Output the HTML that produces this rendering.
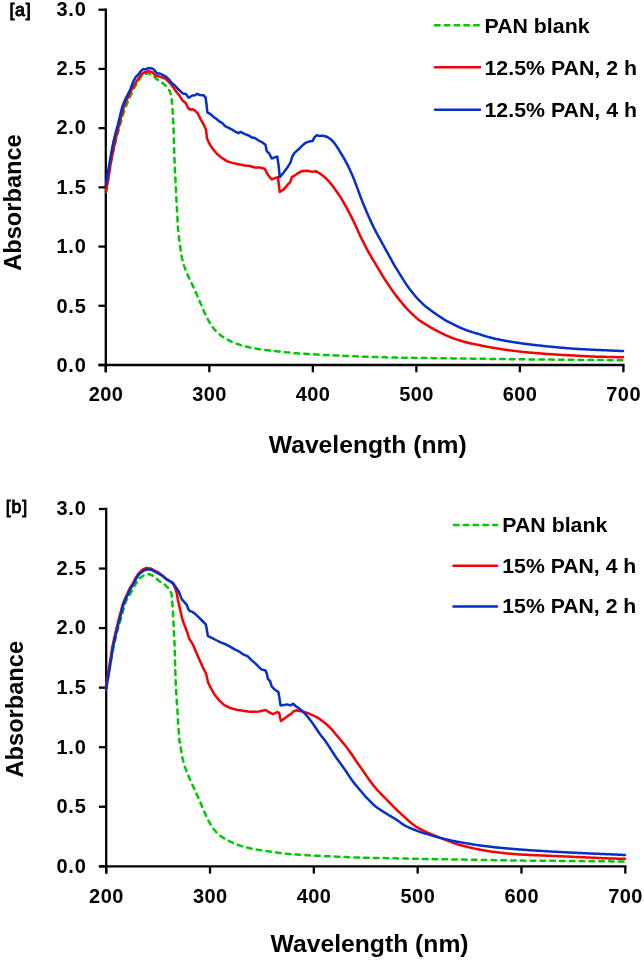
<!DOCTYPE html>
<html><head><meta charset="utf-8"><style>
html,body{margin:0;padding:0;background:#fff;}
body{width:644px;height:960px;overflow:hidden;}
svg{display:block;will-change:transform;}
text{font-family:"Liberation Sans",sans-serif;font-weight:bold;fill:#000;}
.tk{font-size:20px;}
.tky{font-size:20px;}
.tt{font-size:23.5px;}
.lg{font-size:20.5px;}
.pl{font-size:17.8px;font-weight:normal;stroke:#000;stroke-width:0.9px;}
.ax{stroke:#000;stroke-width:2.3;fill:none;stroke-linecap:butt;}
.b{stroke:#0530c8;stroke-width:2.5;fill:none;stroke-linejoin:round;stroke-linecap:round;}
.r{stroke:#f80000;stroke-width:2.5;fill:none;stroke-linejoin:round;stroke-linecap:round;}
.g{stroke:#00c800;stroke-width:2.5;fill:none;stroke-dasharray:4.6 5.2;stroke-linejoin:round;stroke-linecap:round;}
</style></head><body>
<svg width="644" height="960" viewBox="0 0 644 960">
<rect width="644" height="960" fill="#fff"/>
<!-- chart a -->
<line x1="105.8" y1="8.549999999999999" x2="105.8" y2="372.3" class="ax"/>
<line x1="98.5" y1="365.0" x2="624.55" y2="365.0" class="ax"/>
<line x1="98.5" y1="9.70" x2="105.8" y2="9.70" class="ax"/>
<text x="85.8" y="15.55" text-anchor="end" class="tk" textLength="29.3" lengthAdjust="spacing">3.0</text>
<line x1="98.5" y1="68.92" x2="105.8" y2="68.92" class="ax"/>
<text x="85.8" y="74.97" text-anchor="end" class="tk" textLength="29.3" lengthAdjust="spacing">2.5</text>
<line x1="98.5" y1="128.13" x2="105.8" y2="128.13" class="ax"/>
<text x="85.8" y="134.40" text-anchor="end" class="tk" textLength="29.3" lengthAdjust="spacing">2.0</text>
<line x1="98.5" y1="187.35" x2="105.8" y2="187.35" class="ax"/>
<text x="85.8" y="193.82" text-anchor="end" class="tk" textLength="29.3" lengthAdjust="spacing">1.5</text>
<line x1="98.5" y1="246.57" x2="105.8" y2="246.57" class="ax"/>
<text x="85.8" y="253.25" text-anchor="end" class="tk" textLength="29.3" lengthAdjust="spacing">1.0</text>
<line x1="98.5" y1="305.78" x2="105.8" y2="305.78" class="ax"/>
<text x="85.8" y="312.68" text-anchor="end" class="tk" textLength="29.3" lengthAdjust="spacing">0.5</text>
<line x1="98.5" y1="365.00" x2="105.8" y2="365.00" class="ax"/>
<text x="85.8" y="372.10" text-anchor="end" class="tk" textLength="29.3" lengthAdjust="spacing">0.0</text>
<line x1="105.80" y1="365.0" x2="105.80" y2="372.3" class="ax"/>
<text x="105.80" y="401.30" text-anchor="middle" class="tk" textLength="34.2" lengthAdjust="spacing">200</text>
<line x1="209.32" y1="365.0" x2="209.32" y2="372.3" class="ax"/>
<text x="209.32" y="401.30" text-anchor="middle" class="tk" textLength="34.2" lengthAdjust="spacing">300</text>
<line x1="312.84" y1="365.0" x2="312.84" y2="372.3" class="ax"/>
<text x="312.84" y="401.30" text-anchor="middle" class="tk" textLength="34.2" lengthAdjust="spacing">400</text>
<line x1="416.36" y1="365.0" x2="416.36" y2="372.3" class="ax"/>
<text x="416.36" y="401.30" text-anchor="middle" class="tk" textLength="34.2" lengthAdjust="spacing">500</text>
<line x1="519.88" y1="365.0" x2="519.88" y2="372.3" class="ax"/>
<text x="519.88" y="401.30" text-anchor="middle" class="tk" textLength="34.2" lengthAdjust="spacing">600</text>
<line x1="623.40" y1="365.0" x2="623.40" y2="372.3" class="ax"/>
<text x="623.40" y="401.30" text-anchor="middle" class="tk" textLength="34.2" lengthAdjust="spacing">700</text>
<polyline class="g" points="106.00,192.00 108.50,177.00 111.00,162.00 114.00,148.00 117.00,136.00 120.00,125.00 123.00,114.50 126.00,106.00 129.00,99.00 131.50,93.50 134.70,87.00 138.40,81.00 142.10,75.40 145.40,74.00 148.60,73.00 152.40,75.40 156.10,78.60 159.80,81.00 163.60,83.80 167.30,87.50 170.10,91.70 171.50,97.30 172.40,106.60 172.90,115.90 173.60,130.00 174.10,148.80 174.80,167.50 175.80,186.30 176.70,205.00 177.30,215.00 178.10,230.60 179.40,241.00 180.00,244.97 181.00,252.33 182.00,257.93 183.00,262.19 184.00,265.55 185.00,268.39 186.00,270.95 187.00,273.36 188.00,275.65 189.00,277.84 190.00,279.95 191.00,282.00 192.00,284.06 193.00,286.16 194.00,288.32 195.00,290.54 196.00,292.79 197.00,295.08 198.00,297.39 199.00,299.72 200.00,302.07 201.00,304.42 202.00,306.77 203.00,309.11 204.00,311.39 205.00,313.60 206.00,315.70 207.00,317.71 208.00,319.64 209.00,321.46 210.00,323.14 211.00,324.70 212.00,326.18 213.00,327.61 214.00,328.95 215.00,330.16 216.00,331.20 217.00,332.13 218.00,332.99 219.00,333.83 220.00,334.66 221.00,335.47 222.00,336.23 223.00,336.92 224.00,337.55 225.00,338.15 226.00,338.73 227.00,339.30 228.00,339.87 229.00,340.44 230.00,340.98 231.00,341.48 232.00,341.93 233.00,342.33 234.00,342.71 235.00,343.08 236.00,343.45 237.00,343.82 238.00,344.19 239.00,344.55 240.00,344.91 241.00,345.23 242.00,345.53 243.00,345.80 244.00,346.06 245.00,346.31 246.00,346.56 247.00,346.81 248.00,347.07 249.00,347.31 250.00,347.55 251.00,347.77 252.00,347.97 253.00,348.15 254.00,348.33 255.00,348.50 256.00,348.67 257.00,348.83 258.00,349.00 259.00,349.17 260.00,349.34 261.00,349.50 262.00,349.65 263.00,349.78 264.00,349.90 265.00,350.01 266.00,350.12 267.00,350.23 268.00,350.34 269.00,350.45 270.00,350.56 271.00,350.67 272.00,350.77 273.00,350.88 274.00,350.99 275.00,351.10 276.00,351.21 277.00,351.31 278.00,351.42 279.00,351.52 280.00,351.63 281.00,351.74 282.00,351.84 283.00,351.95 284.00,352.05 285.00,352.16 286.00,352.27 287.00,352.37 288.00,352.48 289.00,352.58 290.00,352.69 291.00,352.80 292.00,352.90 293.00,353.01 294.00,353.10 295.00,353.19 296.00,353.26 297.00,353.33 298.00,353.39 299.00,353.45 300.00,353.51 301.00,353.57 302.00,353.63 303.00,353.69 304.00,353.75 305.00,353.81 306.00,353.87 307.00,353.93 308.00,354.00 309.00,354.06 310.00,354.12 311.00,354.18 312.00,354.24 313.00,354.30 314.00,354.36 315.00,354.42 316.00,354.48 317.00,354.54 318.00,354.60 319.00,354.65 320.00,354.71 321.00,354.76 322.00,354.81 323.00,354.86 324.00,354.91 325.00,354.96 326.00,355.00 327.00,355.05 328.00,355.10 329.00,355.15 330.00,355.20 331.00,355.25 332.00,355.30 333.00,355.34 334.00,355.39 335.00,355.44 336.00,355.49 337.00,355.54 338.00,355.59 339.00,355.63 340.00,355.68 341.00,355.73 342.00,355.78 343.00,355.83 344.00,355.87 345.00,355.92 346.00,355.96 347.00,356.00 348.00,356.04 349.00,356.08 350.00,356.12 351.00,356.16 352.00,356.20 353.00,356.24 354.00,356.28 355.00,356.32 356.00,356.36 357.00,356.40 358.00,356.44 359.00,356.48 360.00,356.52 361.00,356.56 362.00,356.60 363.00,356.64 364.00,356.68 365.00,356.72 366.00,356.76 367.00,356.80 368.00,356.84 369.00,356.88 370.00,356.91 371.00,356.94 372.00,356.97 373.00,357.00 374.00,357.03 375.00,357.06 376.00,357.09 377.00,357.11 378.00,357.14 379.00,357.17 380.00,357.20 381.00,357.23 382.00,357.26 383.00,357.28 384.00,357.31 385.00,357.34 386.00,357.37 387.00,357.40 388.00,357.43 389.00,357.45 390.00,357.48 391.00,357.51 392.00,357.54 393.00,357.56 394.00,357.59 395.00,357.61 396.00,357.62 397.00,357.64 398.00,357.65 399.00,357.67 400.00,357.68 401.00,357.69 402.00,357.71 403.00,357.72 404.00,357.74 405.00,357.75 406.00,357.76 407.00,357.78 408.00,357.79 409.00,357.81 410.00,357.82 411.00,357.83 412.00,357.85 413.00,357.86 414.00,357.88 415.00,357.89 416.00,357.90 417.00,357.92 418.00,357.93 419.00,357.95 420.00,357.96 421.00,357.97 422.00,357.99 423.00,358.00 424.00,358.02 425.00,358.03 426.00,358.04 427.00,358.06 428.00,358.07 429.00,358.09 430.00,358.10 431.00,358.11 432.00,358.12 433.00,358.14 434.00,358.15 435.00,358.16 436.00,358.18 437.00,358.19 438.00,358.20 439.00,358.21 440.00,358.23 441.00,358.24 442.00,358.25 443.00,358.26 444.00,358.28 445.00,358.29 446.00,358.30 447.00,358.31 448.00,358.32 449.00,358.34 450.00,358.35 451.00,358.36 452.00,358.38 453.00,358.39 454.00,358.40 455.00,358.41 456.00,358.43 457.00,358.44 458.00,358.45 459.00,358.46 460.00,358.48 461.00,358.49 462.00,358.50 463.00,358.51 464.00,358.53 465.00,358.54 466.00,358.55 467.00,358.56 468.00,358.58 469.00,358.59 470.00,358.60 471.00,358.61 472.00,358.63 473.00,358.64 474.00,358.66 475.00,358.67 476.00,358.68 477.00,358.70 478.00,358.71 479.00,358.73 480.00,358.74 481.00,358.75 482.00,358.77 483.00,358.78 484.00,358.80 485.00,358.81 486.00,358.82 487.00,358.84 488.00,358.85 489.00,358.87 490.00,358.88 491.00,358.89 492.00,358.91 493.00,358.92 494.00,358.94 495.00,358.95 496.00,358.96 497.00,358.98 498.00,358.99 499.00,359.01 500.00,359.02 501.00,359.03 502.00,359.05 503.00,359.06 504.00,359.08 505.00,359.09 506.00,359.10 507.00,359.12 508.00,359.13 509.00,359.15 510.00,359.16 511.00,359.17 512.00,359.19 513.00,359.20 514.00,359.22 515.00,359.23 516.00,359.24 517.00,359.26 518.00,359.27 519.00,359.29 520.00,359.30 521.00,359.31 522.00,359.32 523.00,359.33 524.00,359.34 525.00,359.35 526.00,359.36 527.00,359.37 528.00,359.38 529.00,359.39 530.00,359.40 531.00,359.41 532.00,359.42 533.00,359.43 534.00,359.44 535.00,359.45 536.00,359.46 537.00,359.47 538.00,359.48 539.00,359.49 540.00,359.50 541.00,359.51 542.00,359.52 543.00,359.53 544.00,359.54 545.00,359.55 546.00,359.56 547.00,359.57 548.00,359.58 549.00,359.59 550.00,359.60 551.00,359.61 552.00,359.62 553.00,359.63 554.00,359.64 555.00,359.65 556.00,359.66 557.00,359.67 558.00,359.68 559.00,359.69 560.00,359.70 561.00,359.71 562.00,359.72 563.00,359.73 564.00,359.74 565.00,359.75 566.00,359.76 567.00,359.77 568.00,359.78 569.00,359.79 570.00,359.80 571.00,359.81 572.00,359.82 573.00,359.83 574.00,359.84 575.00,359.85 576.00,359.86 577.00,359.87 578.00,359.87 579.00,359.88 580.00,359.89 581.00,359.90 582.00,359.91 583.00,359.92 584.00,359.93 585.00,359.94 586.00,359.95 587.00,359.96 588.00,359.97 589.00,359.98 590.00,359.99 591.00,360.00 592.00,360.01 593.00,360.01 594.00,360.02 595.00,360.03 596.00,360.04 597.00,360.05 598.00,360.06 599.00,360.07 600.00,360.08 601.00,360.09 602.00,360.10 603.00,360.11 604.00,360.12 605.00,360.13 606.00,360.14 607.00,360.15 608.00,360.16 609.00,360.16 610.00,360.17 611.00,360.18 612.00,360.19 613.00,360.20 614.00,360.21 615.00,360.22 616.00,360.23 617.00,360.24 618.00,360.25 619.00,360.26 620.00,360.27 621.00,360.28 622.00,360.28 623.00,360.29"/>
<polyline class="r" points="106.00,191.60 108.70,176.30 110.90,162.10 113.70,147.90 116.40,135.90 119.10,125.00 121.90,114.00 124.60,104.20 128.40,96.60 130.20,92.00 133.70,86.10 137.50,80.00 141.20,74.40 144.90,72.10 148.60,71.20 152.40,72.10 155.60,75.80 158.90,76.30 162.60,77.70 165.40,78.60 168.20,81.40 171.00,84.20 173.80,88.00 176.60,92.20 179.40,95.40 182.20,100.10 185.90,103.30 187.80,107.50 190.00,109.50 192.40,109.20 195.00,110.70 197.70,113.30 200.30,118.60 203.80,124.80 206.10,130.10 206.90,138.10 209.20,143.40 212.70,148.70 217.10,154.00 221.50,157.60 226.90,161.10 232.20,162.90 238.40,164.20 245.00,165.50 249.90,166.00 254.90,167.50 259.90,167.50 264.80,168.70 266.70,172.80 269.20,176.50 271.70,179.40 274.80,178.10 277.90,177.10 279.75,192.00 283.50,189.60 287.20,185.20 290.30,182.10 291.90,177.10 295.00,175.30 298.70,172.80 302.40,170.90 307.40,170.70 312.40,171.90 315.50,171.20 319.80,173.40 322.00,175.08 323.00,175.83 324.00,176.63 325.00,177.48 326.00,178.40 327.00,179.36 328.00,180.39 329.00,181.47 330.00,182.63 331.00,183.86 332.00,185.15 333.00,186.49 334.00,187.85 335.00,189.22 336.00,190.60 337.00,192.00 338.00,193.43 339.00,194.90 340.00,196.43 341.00,198.01 342.00,199.64 343.00,201.32 344.00,203.03 345.00,204.79 346.00,206.59 347.00,208.42 348.00,210.30 349.00,212.21 350.00,214.15 351.00,216.11 352.00,218.09 353.00,220.10 354.00,222.17 355.00,224.32 356.00,226.56 357.00,228.83 358.00,231.08 359.00,233.26 360.00,235.37 361.00,237.41 362.00,239.43 363.00,241.43 364.00,243.43 365.00,245.41 366.00,247.36 367.00,249.27 368.00,251.14 369.00,252.95 370.00,254.72 371.00,256.44 372.00,258.13 373.00,259.79 374.00,261.44 375.00,263.08 376.00,264.73 377.00,266.38 378.00,268.06 379.00,269.76 380.00,271.47 381.00,273.17 382.00,274.83 383.00,276.46 384.00,278.05 385.00,279.60 386.00,281.13 387.00,282.65 388.00,284.15 389.00,285.65 390.00,287.13 391.00,288.59 392.00,290.02 393.00,291.43 394.00,292.83 395.00,294.21 396.00,295.56 397.00,296.87 398.00,298.14 399.00,299.39 400.00,300.61 401.00,301.83 402.00,303.04 403.00,304.23 404.00,305.41 405.00,306.57 406.00,307.68 407.00,308.77 408.00,309.82 409.00,310.84 410.00,311.85 411.00,312.85 412.00,313.82 413.00,314.77 414.00,315.70 415.00,316.61 416.00,317.49 417.00,318.35 418.00,319.17 419.00,319.95 420.00,320.69 421.00,321.39 422.00,322.06 423.00,322.71 424.00,323.34 425.00,323.97 426.00,324.58 427.00,325.19 428.00,325.80 429.00,326.39 430.00,326.98 431.00,327.57 432.00,328.14 433.00,328.71 434.00,329.26 435.00,329.81 436.00,330.33 437.00,330.84 438.00,331.34 439.00,331.84 440.00,332.33 441.00,332.83 442.00,333.33 443.00,333.83 444.00,334.32 445.00,334.80 446.00,335.27 447.00,335.73 448.00,336.18 449.00,336.60 450.00,337.01 451.00,337.40 452.00,337.79 453.00,338.17 454.00,338.55 455.00,338.92 456.00,339.27 457.00,339.60 458.00,339.91 459.00,340.21 460.00,340.51 461.00,340.81 462.00,341.11 463.00,341.41 464.00,341.71 465.00,342.00 466.00,342.27 467.00,342.53 468.00,342.78 469.00,343.01 470.00,343.24 471.00,343.45 472.00,343.66 473.00,343.85 474.00,344.04 475.00,344.23 476.00,344.41 477.00,344.61 478.00,344.82 479.00,345.05 480.00,345.29 481.00,345.52 482.00,345.75 483.00,345.96 484.00,346.16 485.00,346.35 486.00,346.54 487.00,346.72 488.00,346.89 489.00,347.07 490.00,347.25 491.00,347.43 492.00,347.60 493.00,347.78 494.00,347.95 495.00,348.12 496.00,348.28 497.00,348.44 498.00,348.60 499.00,348.75 500.00,348.91 501.00,349.07 502.00,349.22 503.00,349.38 504.00,349.53 505.00,349.68 506.00,349.83 507.00,349.98 508.00,350.11 509.00,350.25 510.00,350.38 511.00,350.50 512.00,350.63 513.00,350.76 514.00,350.88 515.00,351.01 516.00,351.13 517.00,351.26 518.00,351.38 519.00,351.50 520.00,351.61 521.00,351.72 522.00,351.82 523.00,351.92 524.00,352.02 525.00,352.12 526.00,352.21 527.00,352.31 528.00,352.41 529.00,352.51 530.00,352.60 531.00,352.70 532.00,352.79 533.00,352.87 534.00,352.96 535.00,353.04 536.00,353.12 537.00,353.20 538.00,353.28 539.00,353.36 540.00,353.44 541.00,353.52 542.00,353.60 543.00,353.68 544.00,353.75 545.00,353.82 546.00,353.89 547.00,353.96 548.00,354.02 549.00,354.09 550.00,354.15 551.00,354.22 552.00,354.28 553.00,354.34 554.00,354.41 555.00,354.47 556.00,354.53 557.00,354.59 558.00,354.65 559.00,354.71 560.00,354.77 561.00,354.83 562.00,354.88 563.00,354.94 564.00,355.00 565.00,355.05 566.00,355.11 567.00,355.16 568.00,355.22 569.00,355.28 570.00,355.33 571.00,355.39 572.00,355.44 573.00,355.50 574.00,355.56 575.00,355.61 576.00,355.67 577.00,355.72 578.00,355.78 579.00,355.83 580.00,355.89 581.00,355.94 582.00,356.00 583.00,356.05 584.00,356.10 585.00,356.15 586.00,356.20 587.00,356.25 588.00,356.30 589.00,356.34 590.00,356.39 591.00,356.44 592.00,356.49 593.00,356.53 594.00,356.57 595.00,356.61 596.00,356.64 597.00,356.67 598.00,356.70 599.00,356.72 600.00,356.75 601.00,356.77 602.00,356.80 603.00,356.82 604.00,356.85 605.00,356.87 606.00,356.90 607.00,356.92 608.00,356.95 609.00,356.97 610.00,357.00 611.00,357.02 612.00,357.04 613.00,357.07 614.00,357.09 615.00,357.11 616.00,357.13 617.00,357.16 618.00,357.18 619.00,357.20 620.00,357.22 621.00,357.24 622.00,357.26 623.00,357.28"/>
<polyline class="b" points="106.00,184.00 108.20,170.90 110.40,157.80 112.60,145.70 114.80,135.90 117.50,126.10 120.20,115.10 122.40,106.40 125.10,99.80 128.40,93.30 130.50,89.00 132.80,82.60 135.60,77.20 138.40,74.40 140.70,71.20 143.00,69.30 145.80,69.30 148.60,67.90 151.90,68.40 154.20,69.80 157.00,73.50 159.80,73.50 162.60,74.90 166.30,76.80 169.10,79.60 171.90,83.30 174.70,85.20 177.50,88.50 180.30,91.20 183.10,93.60 185.90,94.00 188.70,97.70 192.40,95.50 195.00,95.20 197.20,93.80 199.40,94.90 203.40,95.20 205.60,97.40 206.50,104.50 207.40,112.40 210.50,114.20 213.60,116.90 216.70,119.10 219.80,121.70 222.40,123.10 225.10,126.20 228.60,127.90 232.20,129.70 235.70,131.90 238.40,133.20 240.60,131.90 245.00,134.10 248.70,135.50 251.80,137.40 254.90,138.00 258.60,140.50 262.40,142.40 265.50,144.80 266.70,151.10 269.20,153.50 271.70,158.50 274.80,157.30 277.30,156.60 278.50,164.70 279.75,177.10 283.50,172.80 287.20,167.80 290.30,162.90 292.30,156.50 294.50,152.90 298.00,149.80 302.00,145.80 306.00,142.60 309.00,141.60 312.50,141.10 314.40,137.40 316.60,135.30 319.80,135.90 322.00,135.75 323.00,135.81 324.00,135.94 325.00,136.18 326.00,136.51 327.00,136.94 328.00,137.46 329.00,138.08 330.00,138.78 331.00,139.58 332.00,140.48 333.00,141.50 334.00,142.65 335.00,143.94 336.00,145.37 337.00,146.90 338.00,148.48 339.00,150.10 340.00,151.72 341.00,153.34 342.00,154.99 343.00,156.68 344.00,158.41 345.00,160.19 346.00,162.03 347.00,163.91 348.00,165.86 349.00,167.88 350.00,169.98 351.00,172.17 352.00,174.44 353.00,176.80 354.00,179.27 355.00,181.83 356.00,184.48 357.00,187.19 358.00,189.94 359.00,192.67 360.00,195.38 361.00,198.03 362.00,200.61 363.00,203.13 364.00,205.58 365.00,207.98 366.00,210.34 367.00,212.65 368.00,214.94 369.00,217.20 370.00,219.43 371.00,221.63 372.00,223.78 373.00,225.88 374.00,227.93 375.00,229.92 376.00,231.85 377.00,233.73 378.00,235.56 379.00,237.37 380.00,239.18 381.00,241.00 382.00,242.83 383.00,244.66 384.00,246.49 385.00,248.30 386.00,250.10 387.00,251.88 388.00,253.68 389.00,255.49 390.00,257.32 391.00,259.17 392.00,261.01 393.00,262.82 394.00,264.58 395.00,266.28 396.00,267.94 397.00,269.57 398.00,271.18 399.00,272.79 400.00,274.40 401.00,276.01 402.00,277.61 403.00,279.21 404.00,280.80 405.00,282.36 406.00,283.89 407.00,285.38 408.00,286.82 409.00,288.21 410.00,289.55 411.00,290.85 412.00,292.10 413.00,293.32 414.00,294.53 415.00,295.71 416.00,296.87 417.00,298.00 418.00,299.09 419.00,300.15 420.00,301.18 421.00,302.18 422.00,303.15 423.00,304.09 424.00,305.00 425.00,305.86 426.00,306.68 427.00,307.47 428.00,308.24 429.00,309.00 430.00,309.75 431.00,310.50 432.00,311.23 433.00,311.97 434.00,312.69 435.00,313.39 436.00,314.08 437.00,314.76 438.00,315.42 439.00,316.09 440.00,316.75 441.00,317.41 442.00,318.07 443.00,318.73 444.00,319.36 445.00,319.99 446.00,320.58 447.00,321.15 448.00,321.69 449.00,322.22 450.00,322.72 451.00,323.22 452.00,323.72 453.00,324.22 454.00,324.72 455.00,325.22 456.00,325.72 457.00,326.20 458.00,326.67 459.00,327.12 460.00,327.56 461.00,327.98 462.00,328.39 463.00,328.80 464.00,329.19 465.00,329.59 466.00,329.98 467.00,330.35 468.00,330.71 469.00,331.06 470.00,331.38 471.00,331.71 472.00,332.03 473.00,332.35 474.00,332.67 475.00,332.96 476.00,333.25 477.00,333.53 478.00,333.81 479.00,334.11 480.00,334.43 481.00,334.78 482.00,335.13 483.00,335.47 484.00,335.78 485.00,336.07 486.00,336.35 487.00,336.62 488.00,336.89 489.00,337.16 490.00,337.42 491.00,337.69 492.00,337.95 493.00,338.21 494.00,338.46 495.00,338.69 496.00,338.91 497.00,339.12 498.00,339.33 499.00,339.53 500.00,339.72 501.00,339.92 502.00,340.12 503.00,340.31 504.00,340.51 505.00,340.70 506.00,340.89 507.00,341.07 508.00,341.24 509.00,341.41 510.00,341.57 511.00,341.73 512.00,341.89 513.00,342.04 514.00,342.20 515.00,342.36 516.00,342.52 517.00,342.67 518.00,342.83 519.00,342.98 520.00,343.12 521.00,343.26 522.00,343.40 523.00,343.53 524.00,343.66 525.00,343.79 526.00,343.92 527.00,344.05 528.00,344.18 529.00,344.31 530.00,344.44 531.00,344.56 532.00,344.69 533.00,344.81 534.00,344.92 535.00,345.04 536.00,345.15 537.00,345.26 538.00,345.37 539.00,345.48 540.00,345.60 541.00,345.71 542.00,345.82 543.00,345.93 544.00,346.03 545.00,346.14 546.00,346.24 547.00,346.34 548.00,346.44 549.00,346.53 550.00,346.63 551.00,346.72 552.00,346.82 553.00,346.92 554.00,347.01 555.00,347.11 556.00,347.20 557.00,347.29 558.00,347.39 559.00,347.48 560.00,347.57 561.00,347.65 562.00,347.74 563.00,347.83 564.00,347.92 565.00,348.01 566.00,348.10 567.00,348.18 568.00,348.27 569.00,348.35 570.00,348.42 571.00,348.50 572.00,348.56 573.00,348.63 574.00,348.69 575.00,348.76 576.00,348.82 577.00,348.88 578.00,348.95 579.00,349.01 580.00,349.07 581.00,349.13 582.00,349.19 583.00,349.24 584.00,349.30 585.00,349.35 586.00,349.40 587.00,349.45 588.00,349.50 589.00,349.54 590.00,349.59 591.00,349.64 592.00,349.69 593.00,349.74 594.00,349.79 595.00,349.83 596.00,349.88 597.00,349.92 598.00,349.97 599.00,350.01 600.00,350.06 601.00,350.10 602.00,350.15 603.00,350.19 604.00,350.23 605.00,350.28 606.00,350.32 607.00,350.37 608.00,350.41 609.00,350.46 610.00,350.50 611.00,350.54 612.00,350.59 613.00,350.63 614.00,350.68 615.00,350.72 616.00,350.77 617.00,350.81 618.00,350.86 619.00,350.90 620.00,350.94 621.00,350.98 622.00,351.02 623.00,351.05"/>
<text x="9.4" y="15.9" class="pl" textLength="21.3" lengthAdjust="spacing">[a]</text>
<text x="21" y="202.5" class="tt" text-anchor="middle" transform="rotate(-90 21 202.5)" textLength="136.5" lengthAdjust="spacingAndGlyphs">Absorbance</text>
<text x="268.8" y="452.9" class="tt" textLength="197.8" lengthAdjust="spacingAndGlyphs">Wavelength (nm)</text>
<line x1="435" y1="25.2" x2="481" y2="25.2" class="g"/>
<line x1="435" y1="67.3" x2="480" y2="67.3" class="r"/>
<line x1="435" y1="109.8" x2="480" y2="109.8" class="b"/>
<text x="484.5" y="32.7" class="lg" textLength="105" lengthAdjust="spacingAndGlyphs">PAN blank</text>
<text x="484.5" y="74.7" class="lg" textLength="152.5" lengthAdjust="spacingAndGlyphs">12.5% PAN, 2 h</text>
<text x="484.5" y="116.7" class="lg" textLength="152.5" lengthAdjust="spacingAndGlyphs">12.5% PAN, 4 h</text>
<!-- chart b -->
<line x1="106.2" y1="507.85" x2="106.2" y2="873.5999999999999" class="ax"/>
<line x1="98.9" y1="866.3" x2="626.4499999999999" y2="866.3" class="ax"/>
<line x1="98.9" y1="509.00" x2="106.2" y2="509.00" class="ax"/>
<text x="85.8" y="514.85" text-anchor="end" class="tk" textLength="29.3" lengthAdjust="spacing">3.0</text>
<line x1="98.9" y1="568.55" x2="106.2" y2="568.55" class="ax"/>
<text x="85.8" y="574.52" text-anchor="end" class="tk" textLength="29.3" lengthAdjust="spacing">2.5</text>
<line x1="98.9" y1="628.10" x2="106.2" y2="628.10" class="ax"/>
<text x="85.8" y="634.19" text-anchor="end" class="tk" textLength="29.3" lengthAdjust="spacing">2.0</text>
<line x1="98.9" y1="687.65" x2="106.2" y2="687.65" class="ax"/>
<text x="85.8" y="693.86" text-anchor="end" class="tk" textLength="29.3" lengthAdjust="spacing">1.5</text>
<line x1="98.9" y1="747.20" x2="106.2" y2="747.20" class="ax"/>
<text x="85.8" y="753.53" text-anchor="end" class="tk" textLength="29.3" lengthAdjust="spacing">1.0</text>
<line x1="98.9" y1="806.75" x2="106.2" y2="806.75" class="ax"/>
<text x="85.8" y="813.20" text-anchor="end" class="tk" textLength="29.3" lengthAdjust="spacing">0.5</text>
<line x1="98.9" y1="866.30" x2="106.2" y2="866.30" class="ax"/>
<text x="85.8" y="872.87" text-anchor="end" class="tk" textLength="29.3" lengthAdjust="spacing">0.0</text>
<line x1="106.20" y1="866.3" x2="106.20" y2="873.5999999999999" class="ax"/>
<text x="106.20" y="902.60" text-anchor="middle" class="tk" textLength="34.2" lengthAdjust="spacing">200</text>
<line x1="210.02" y1="866.3" x2="210.02" y2="873.5999999999999" class="ax"/>
<text x="210.02" y="902.60" text-anchor="middle" class="tk" textLength="34.2" lengthAdjust="spacing">300</text>
<line x1="313.84" y1="866.3" x2="313.84" y2="873.5999999999999" class="ax"/>
<text x="313.84" y="902.60" text-anchor="middle" class="tk" textLength="34.2" lengthAdjust="spacing">400</text>
<line x1="417.66" y1="866.3" x2="417.66" y2="873.5999999999999" class="ax"/>
<text x="417.66" y="902.60" text-anchor="middle" class="tk" textLength="34.2" lengthAdjust="spacing">500</text>
<line x1="521.48" y1="866.3" x2="521.48" y2="873.5999999999999" class="ax"/>
<text x="521.48" y="902.60" text-anchor="middle" class="tk" textLength="34.2" lengthAdjust="spacing">600</text>
<line x1="625.30" y1="866.3" x2="625.30" y2="873.5999999999999" class="ax"/>
<text x="625.30" y="902.60" text-anchor="middle" class="tk" textLength="34.2" lengthAdjust="spacing">700</text>
<polyline class="g" points="106.10,689.50 108.50,675.00 111.00,660.00 114.00,645.00 117.00,632.00 120.00,622.00 123.00,611.00 126.00,601.00 128.50,597.50 130.00,594.20 134.70,585.60 139.30,578.60 144.00,575.10 148.60,574.00 152.50,575.50 156.40,578.60 161.10,582.50 164.90,584.80 168.80,588.70 171.10,592.60 171.80,595.50 172.00,599.50 172.80,608.80 173.40,620.50 174.00,632.10 174.60,645.00 175.10,664.70 175.80,685.00 176.70,700.00 177.70,714.10 178.10,723.40 178.90,732.80 179.50,742.20 180.00,741.82 181.00,749.81 182.00,755.75 183.00,760.28 184.00,763.90 185.00,766.99 186.00,769.77 187.00,772.37 188.00,774.86 189.00,777.27 190.00,779.60 191.00,781.84 192.00,783.98 193.00,786.06 194.00,788.14 195.00,790.27 196.00,792.47 197.00,794.73 198.00,797.02 199.00,799.33 200.00,801.67 201.00,804.01 202.00,806.36 203.00,808.71 204.00,811.04 205.00,813.35 206.00,815.57 207.00,817.70 208.00,819.73 209.00,821.65 210.00,823.45 211.00,825.11 212.00,826.67 213.00,828.14 214.00,829.53 215.00,830.78 216.00,831.88 217.00,832.86 218.00,833.78 219.00,834.67 220.00,835.53 221.00,836.31 222.00,837.00 223.00,837.63 224.00,838.22 225.00,838.79 226.00,839.36 227.00,839.93 228.00,840.47 229.00,841.00 230.00,841.50 231.00,841.98 232.00,842.45 233.00,842.93 234.00,843.39 235.00,843.83 236.00,844.24 237.00,844.61 238.00,844.94 239.00,845.26 240.00,845.57 241.00,845.88 242.00,846.19 243.00,846.49 244.00,846.79 245.00,847.06 246.00,847.31 247.00,847.55 248.00,847.78 249.00,848.01 250.00,848.24 251.00,848.47 252.00,848.70 253.00,848.92 254.00,849.13 255.00,849.33 256.00,849.50 257.00,849.67 258.00,849.82 259.00,849.98 260.00,850.13 261.00,850.28 262.00,850.44 263.00,850.59 264.00,850.74 265.00,850.89 266.00,851.04 267.00,851.18 268.00,851.32 269.00,851.47 270.00,851.61 271.00,851.75 272.00,851.89 273.00,852.03 274.00,852.17 275.00,852.31 276.00,852.46 277.00,852.60 278.00,852.74 279.00,852.88 280.00,853.02 281.00,853.16 282.00,853.30 283.00,853.44 284.00,853.57 285.00,853.68 286.00,853.77 287.00,853.85 288.00,853.92 289.00,853.99 290.00,854.06 291.00,854.12 292.00,854.19 293.00,854.26 294.00,854.33 295.00,854.40 296.00,854.46 297.00,854.53 298.00,854.60 299.00,854.67 300.00,854.74 301.00,854.81 302.00,854.87 303.00,854.94 304.00,855.01 305.00,855.08 306.00,855.15 307.00,855.22 308.00,855.28 309.00,855.35 310.00,855.41 311.00,855.46 312.00,855.51 313.00,855.56 314.00,855.61 315.00,855.66 316.00,855.70 317.00,855.75 318.00,855.80 319.00,855.85 320.00,855.90 321.00,855.95 322.00,856.00 323.00,856.04 324.00,856.09 325.00,856.14 326.00,856.19 327.00,856.24 328.00,856.29 329.00,856.33 330.00,856.38 331.00,856.43 332.00,856.48 333.00,856.53 334.00,856.57 335.00,856.62 336.00,856.66 337.00,856.70 338.00,856.74 339.00,856.78 340.00,856.82 341.00,856.86 342.00,856.90 343.00,856.94 344.00,856.98 345.00,857.02 346.00,857.06 347.00,857.10 348.00,857.14 349.00,857.18 350.00,857.22 351.00,857.26 352.00,857.30 353.00,857.34 354.00,857.38 355.00,857.42 356.00,857.46 357.00,857.50 358.00,857.54 359.00,857.58 360.00,857.60 361.00,857.63 362.00,857.65 363.00,857.67 364.00,857.69 365.00,857.71 366.00,857.73 367.00,857.75 368.00,857.77 369.00,857.79 370.00,857.81 371.00,857.83 372.00,857.85 373.00,857.87 374.00,857.89 375.00,857.91 376.00,857.93 377.00,857.95 378.00,857.98 379.00,858.00 380.00,858.02 381.00,858.04 382.00,858.06 383.00,858.08 384.00,858.10 385.00,858.12 386.00,858.14 387.00,858.16 388.00,858.18 389.00,858.21 390.00,858.23 391.00,858.25 392.00,858.27 393.00,858.30 394.00,858.32 395.00,858.34 396.00,858.36 397.00,858.39 398.00,858.41 399.00,858.43 400.00,858.45 401.00,858.48 402.00,858.50 403.00,858.52 404.00,858.54 405.00,858.56 406.00,858.59 407.00,858.61 408.00,858.63 409.00,858.65 410.00,858.68 411.00,858.70 412.00,858.72 413.00,858.74 414.00,858.77 415.00,858.79 416.00,858.81 417.00,858.83 418.00,858.85 419.00,858.88 420.00,858.90 421.00,858.91 422.00,858.93 423.00,858.95 424.00,858.96 425.00,858.98 426.00,859.00 427.00,859.01 428.00,859.03 429.00,859.04 430.00,859.06 431.00,859.08 432.00,859.09 433.00,859.11 434.00,859.12 435.00,859.14 436.00,859.16 437.00,859.17 438.00,859.19 439.00,859.20 440.00,859.22 441.00,859.24 442.00,859.25 443.00,859.27 444.00,859.28 445.00,859.30 446.00,859.32 447.00,859.33 448.00,859.35 449.00,859.36 450.00,859.38 451.00,859.40 452.00,859.41 453.00,859.43 454.00,859.44 455.00,859.46 456.00,859.48 457.00,859.49 458.00,859.51 459.00,859.52 460.00,859.54 461.00,859.56 462.00,859.57 463.00,859.59 464.00,859.60 465.00,859.62 466.00,859.64 467.00,859.65 468.00,859.67 469.00,859.68 470.00,859.70 471.00,859.72 472.00,859.74 473.00,859.75 474.00,859.77 475.00,859.79 476.00,859.81 477.00,859.83 478.00,859.84 479.00,859.86 480.00,859.88 481.00,859.90 482.00,859.92 483.00,859.93 484.00,859.95 485.00,859.97 486.00,859.99 487.00,860.01 488.00,860.02 489.00,860.04 490.00,860.06 491.00,860.08 492.00,860.10 493.00,860.11 494.00,860.13 495.00,860.15 496.00,860.17 497.00,860.19 498.00,860.20 499.00,860.22 500.00,860.24 501.00,860.26 502.00,860.28 503.00,860.29 504.00,860.31 505.00,860.33 506.00,860.35 507.00,860.37 508.00,860.38 509.00,860.40 510.00,860.42 511.00,860.44 512.00,860.46 513.00,860.47 514.00,860.49 515.00,860.51 516.00,860.53 517.00,860.55 518.00,860.56 519.00,860.58 520.00,860.59 521.00,860.61 522.00,860.62 523.00,860.62 524.00,860.63 525.00,860.64 526.00,860.65 527.00,860.66 528.00,860.66 529.00,860.67 530.00,860.68 531.00,860.69 532.00,860.70 533.00,860.70 534.00,860.71 535.00,860.72 536.00,860.73 537.00,860.74 538.00,860.74 539.00,860.75 540.00,860.76 541.00,860.77 542.00,860.78 543.00,860.78 544.00,860.79 545.00,860.80 546.00,860.81 547.00,860.82 548.00,860.82 549.00,860.83 550.00,860.84 551.00,860.85 552.00,860.86 553.00,860.86 554.00,860.87 555.00,860.88 556.00,860.89 557.00,860.90 558.00,860.90 559.00,860.91 560.00,860.92 561.00,860.93 562.00,860.94 563.00,860.94 564.00,860.95 565.00,860.96 566.00,860.97 567.00,860.98 568.00,860.98 569.00,860.99 570.00,861.00 571.00,861.01 572.00,861.02 573.00,861.03 574.00,861.04 575.00,861.05 576.00,861.05 577.00,861.06 578.00,861.07 579.00,861.08 580.00,861.09 581.00,861.10 582.00,861.11 583.00,861.12 584.00,861.13 585.00,861.14 586.00,861.14 587.00,861.15 588.00,861.16 589.00,861.17 590.00,861.18 591.00,861.19 592.00,861.20 593.00,861.21 594.00,861.22 595.00,861.23 596.00,861.23 597.00,861.24 598.00,861.25 599.00,861.26 600.00,861.27 601.00,861.28 602.00,861.29 603.00,861.30 604.00,861.31 605.00,861.32 606.00,861.32 607.00,861.33 608.00,861.34 609.00,861.35 610.00,861.36 611.00,861.37 612.00,861.38 613.00,861.39 614.00,861.40 615.00,861.41 616.00,861.41 617.00,861.42 618.00,861.43 619.00,861.44 620.00,861.45 621.00,861.46 622.00,861.47 623.00,861.48 624.00,861.49 625.00,861.49"/>
<polyline class="r" points="105.60,688.70 107.50,676.80 109.40,665.50 111.00,655.50 112.20,647.40 114.40,637.30 116.40,628.80 119.00,618.40 121.10,610.50 122.70,604.30 124.80,599.10 127.40,593.40 130.00,587.80 132.50,584.10 135.60,577.90 138.70,573.30 142.60,569.60 146.50,568.00 150.40,568.40 154.20,570.30 158.10,572.30 162.00,575.20 165.90,578.70 169.80,581.00 172.50,582.60 175.20,588.00 176.60,592.60 177.90,599.50 179.40,606.50 181.00,613.50 182.50,619.70 184.80,625.90 187.30,632.50 189.20,638.60 193.00,644.70 196.20,652.20 199.50,659.70 202.80,667.20 206.10,673.70 208.00,682.20 211.20,688.70 215.00,695.30 219.70,700.90 224.40,705.10 230.00,707.90 236.50,709.80 243.10,710.80 248.00,711.40 252.40,711.70 259.20,711.40 265.50,710.00 269.00,712.10 272.80,714.20 277.40,712.10 279.10,712.80 280.90,721.10 284.40,718.40 287.80,715.90 291.30,713.80 293.40,711.40 296.90,710.30 298.00,710.81 299.00,710.93 300.00,711.09 301.00,711.26 302.00,711.44 303.00,711.63 304.00,711.86 305.00,712.13 306.00,712.45 307.00,712.81 308.00,713.20 309.00,713.62 310.00,714.07 311.00,714.52 312.00,714.97 313.00,715.43 314.00,715.88 315.00,716.33 316.00,716.81 317.00,717.32 318.00,717.89 319.00,718.52 320.00,719.20 321.00,719.93 322.00,720.67 323.00,721.43 324.00,722.20 325.00,722.99 326.00,723.82 327.00,724.70 328.00,725.61 329.00,726.58 330.00,727.59 331.00,728.65 332.00,729.76 333.00,730.90 334.00,732.07 335.00,733.26 336.00,734.45 337.00,735.65 338.00,736.86 339.00,738.06 340.00,739.26 341.00,740.46 342.00,741.66 343.00,742.86 344.00,744.06 345.00,745.28 346.00,746.52 347.00,747.81 348.00,749.14 349.00,750.51 350.00,751.91 351.00,753.33 352.00,754.77 353.00,756.24 354.00,757.73 355.00,759.23 356.00,760.73 357.00,762.19 358.00,763.64 359.00,765.06 360.00,766.48 361.00,767.90 362.00,769.34 363.00,770.79 364.00,772.25 365.00,773.71 366.00,775.16 367.00,776.60 368.00,778.03 369.00,779.44 370.00,780.84 371.00,782.21 372.00,783.56 373.00,784.86 374.00,786.11 375.00,787.31 376.00,788.48 377.00,789.60 378.00,790.70 379.00,791.76 380.00,792.79 381.00,793.81 382.00,794.81 383.00,795.82 384.00,796.84 385.00,797.88 386.00,798.94 387.00,800.00 388.00,801.06 389.00,802.10 390.00,803.13 391.00,804.13 392.00,805.13 393.00,806.12 394.00,807.11 395.00,808.11 396.00,809.10 397.00,810.09 398.00,811.07 399.00,812.02 400.00,812.94 401.00,813.83 402.00,814.70 403.00,815.57 404.00,816.47 405.00,817.40 406.00,818.35 407.00,819.31 408.00,820.24 409.00,821.14 410.00,822.00 411.00,822.83 412.00,823.63 413.00,824.40 414.00,825.14 415.00,825.85 416.00,826.53 417.00,827.17 418.00,827.79 419.00,828.37 420.00,828.92 421.00,829.45 422.00,829.96 423.00,830.47 424.00,830.96 425.00,831.46 426.00,831.94 427.00,832.41 428.00,832.85 429.00,833.27 430.00,833.68 431.00,834.08 432.00,834.49 433.00,834.90 434.00,835.31 435.00,835.71 436.00,836.11 437.00,836.51 438.00,836.90 439.00,837.30 440.00,837.70 441.00,838.10 442.00,838.50 443.00,838.90 444.00,839.29 445.00,839.67 446.00,840.05 447.00,840.42 448.00,840.79 449.00,841.16 450.00,841.54 451.00,841.93 452.00,842.33 453.00,842.73 454.00,843.12 455.00,843.51 456.00,843.87 457.00,844.21 458.00,844.52 459.00,844.80 460.00,845.07 461.00,845.33 462.00,845.58 463.00,845.83 464.00,846.08 465.00,846.32 466.00,846.56 467.00,846.79 468.00,847.02 469.00,847.25 470.00,847.48 471.00,847.71 472.00,847.94 473.00,848.17 474.00,848.40 475.00,848.63 476.00,848.85 477.00,849.07 478.00,849.27 479.00,849.47 480.00,849.65 481.00,849.83 482.00,850.00 483.00,850.17 484.00,850.35 485.00,850.52 486.00,850.69 487.00,850.86 488.00,851.03 489.00,851.20 490.00,851.36 491.00,851.52 492.00,851.67 493.00,851.81 494.00,851.93 495.00,852.05 496.00,852.17 497.00,852.28 498.00,852.40 499.00,852.51 500.00,852.63 501.00,852.74 502.00,852.85 503.00,852.97 504.00,853.08 505.00,853.19 506.00,853.29 507.00,853.38 508.00,853.48 509.00,853.56 510.00,853.65 511.00,853.74 512.00,853.82 513.00,853.91 514.00,853.99 515.00,854.08 516.00,854.16 517.00,854.25 518.00,854.33 519.00,854.41 520.00,854.47 521.00,854.53 522.00,854.59 523.00,854.64 524.00,854.68 525.00,854.73 526.00,854.77 527.00,854.82 528.00,854.86 529.00,854.91 530.00,854.95 531.00,855.00 532.00,855.04 533.00,855.09 534.00,855.13 535.00,855.18 536.00,855.22 537.00,855.27 538.00,855.31 539.00,855.35 540.00,855.40 541.00,855.44 542.00,855.48 543.00,855.53 544.00,855.57 545.00,855.61 546.00,855.65 547.00,855.70 548.00,855.74 549.00,855.78 550.00,855.82 551.00,855.86 552.00,855.91 553.00,855.95 554.00,855.99 555.00,856.03 556.00,856.07 557.00,856.12 558.00,856.16 559.00,856.20 560.00,856.24 561.00,856.28 562.00,856.32 563.00,856.36 564.00,856.40 565.00,856.44 566.00,856.49 567.00,856.53 568.00,856.57 569.00,856.61 570.00,856.65 571.00,856.70 572.00,856.74 573.00,856.79 574.00,856.83 575.00,856.88 576.00,856.92 577.00,856.97 578.00,857.02 579.00,857.06 580.00,857.11 581.00,857.16 582.00,857.21 583.00,857.25 584.00,857.30 585.00,857.35 586.00,857.39 587.00,857.44 588.00,857.49 589.00,857.53 590.00,857.58 591.00,857.63 592.00,857.67 593.00,857.72 594.00,857.77 595.00,857.81 596.00,857.86 597.00,857.91 598.00,857.95 599.00,858.00 600.00,858.05 601.00,858.09 602.00,858.14 603.00,858.19 604.00,858.23 605.00,858.27 606.00,858.31 607.00,858.34 608.00,858.38 609.00,858.41 610.00,858.44 611.00,858.47 612.00,858.50 613.00,858.53 614.00,858.56 615.00,858.59 616.00,858.62 617.00,858.65 618.00,858.68 619.00,858.71 620.00,858.74 621.00,858.77 622.00,858.79 623.00,858.82 624.00,858.85 625.00,858.87"/>
<polyline class="b" points="106.20,689.40 108.10,677.50 110.00,666.25 111.60,656.25 112.80,648.10 115.00,638.00 117.00,629.50 119.60,619.10 121.70,611.25 123.30,605.00 125.40,599.80 128.00,594.10 130.60,588.50 133.10,584.80 136.20,578.60 139.30,574.00 143.20,570.90 147.10,569.30 151.00,569.70 154.80,571.60 158.70,573.60 162.60,575.90 166.50,579.40 170.40,581.70 173.10,583.30 175.80,587.20 178.90,591.80 179.40,593.30 181.70,599.10 184.10,601.80 186.80,604.90 188.30,609.20 189.90,611.10 192.60,611.90 195.70,614.30 198.80,617.40 201.90,620.50 205.80,624.30 207.00,630.60 207.80,635.80 211.20,637.70 215.90,640.00 220.60,642.30 225.30,644.20 230.00,646.60 234.70,649.40 239.40,651.70 243.70,654.70 247.50,656.10 251.20,659.90 255.00,663.10 257.80,665.90 261.30,669.40 265.50,670.50 266.90,674.00 267.90,678.90 270.00,681.00 271.80,686.60 274.60,689.40 278.40,692.10 279.50,698.40 280.50,705.40 283.70,705.10 287.10,704.40 290.60,705.40 293.10,703.70 296.20,706.50 298.00,707.64 299.00,708.37 300.00,709.13 301.00,709.96 302.00,710.84 303.00,711.78 304.00,712.76 305.00,713.78 306.00,714.85 307.00,715.97 308.00,717.16 309.00,718.40 310.00,719.71 311.00,721.06 312.00,722.44 313.00,723.84 314.00,725.27 315.00,726.73 316.00,728.21 317.00,729.72 318.00,731.23 319.00,732.70 320.00,734.12 321.00,735.48 322.00,736.77 323.00,738.03 324.00,739.30 325.00,740.60 326.00,741.97 327.00,743.42 328.00,744.92 329.00,746.46 330.00,748.03 331.00,749.60 332.00,751.17 333.00,752.73 334.00,754.26 335.00,755.76 336.00,757.23 337.00,758.66 338.00,760.09 339.00,761.49 340.00,762.89 341.00,764.29 342.00,765.68 343.00,767.07 344.00,768.47 345.00,769.89 346.00,771.33 347.00,772.81 348.00,774.32 349.00,775.84 350.00,777.35 351.00,778.81 352.00,780.22 353.00,781.57 354.00,782.86 355.00,784.10 356.00,785.31 357.00,786.51 358.00,787.71 359.00,788.90 360.00,790.09 361.00,791.28 362.00,792.46 363.00,793.63 364.00,794.80 365.00,795.95 366.00,797.06 367.00,798.14 368.00,799.19 369.00,800.21 370.00,801.21 371.00,802.20 372.00,803.18 373.00,804.13 374.00,805.04 375.00,805.91 376.00,806.72 377.00,807.49 378.00,808.21 379.00,808.91 380.00,809.59 381.00,810.26 382.00,810.91 383.00,811.55 384.00,812.18 385.00,812.80 386.00,813.41 387.00,814.02 388.00,814.63 389.00,815.23 390.00,815.83 391.00,816.43 392.00,817.02 393.00,817.61 394.00,818.20 395.00,818.80 396.00,819.43 397.00,820.08 398.00,820.77 399.00,821.48 400.00,822.22 401.00,822.96 402.00,823.69 403.00,824.39 404.00,825.04 405.00,825.63 406.00,826.17 407.00,826.67 408.00,827.13 409.00,827.58 410.00,828.01 411.00,828.42 412.00,828.83 413.00,829.23 414.00,829.63 415.00,830.02 416.00,830.42 417.00,830.81 418.00,831.20 419.00,831.57 420.00,831.93 421.00,832.26 422.00,832.58 423.00,832.89 424.00,833.18 425.00,833.48 426.00,833.77 427.00,834.06 428.00,834.36 429.00,834.66 430.00,834.96 431.00,835.26 432.00,835.55 433.00,835.85 434.00,836.15 435.00,836.44 436.00,836.74 437.00,837.03 438.00,837.32 439.00,837.59 440.00,837.85 441.00,838.10 442.00,838.35 443.00,838.59 444.00,838.84 445.00,839.09 446.00,839.34 447.00,839.58 448.00,839.82 449.00,840.05 450.00,840.27 451.00,840.48 452.00,840.69 453.00,840.89 454.00,841.08 455.00,841.28 456.00,841.47 457.00,841.65 458.00,841.83 459.00,842.01 460.00,842.18 461.00,842.36 462.00,842.53 463.00,842.70 464.00,842.87 465.00,843.05 466.00,843.22 467.00,843.39 468.00,843.56 469.00,843.73 470.00,843.91 471.00,844.08 472.00,844.25 473.00,844.42 474.00,844.58 475.00,844.74 476.00,844.88 477.00,845.02 478.00,845.16 479.00,845.29 480.00,845.42 481.00,845.55 482.00,845.68 483.00,845.81 484.00,845.94 485.00,846.06 486.00,846.19 487.00,846.32 488.00,846.45 489.00,846.58 490.00,846.71 491.00,846.84 492.00,846.96 493.00,847.08 494.00,847.19 495.00,847.30 496.00,847.39 497.00,847.49 498.00,847.58 499.00,847.67 500.00,847.76 501.00,847.85 502.00,847.95 503.00,848.04 504.00,848.13 505.00,848.22 506.00,848.31 507.00,848.40 508.00,848.49 509.00,848.58 510.00,848.67 511.00,848.76 512.00,848.85 513.00,848.93 514.00,849.02 515.00,849.10 516.00,849.18 517.00,849.26 518.00,849.34 519.00,849.42 520.00,849.49 521.00,849.57 522.00,849.64 523.00,849.71 524.00,849.78 525.00,849.85 526.00,849.92 527.00,849.99 528.00,850.06 529.00,850.13 530.00,850.20 531.00,850.27 532.00,850.34 533.00,850.41 534.00,850.48 535.00,850.55 536.00,850.62 537.00,850.68 538.00,850.75 539.00,850.81 540.00,850.87 541.00,850.93 542.00,850.99 543.00,851.05 544.00,851.10 545.00,851.16 546.00,851.22 547.00,851.28 548.00,851.34 549.00,851.40 550.00,851.45 551.00,851.51 552.00,851.57 553.00,851.63 554.00,851.68 555.00,851.74 556.00,851.79 557.00,851.85 558.00,851.90 559.00,851.95 560.00,852.01 561.00,852.06 562.00,852.11 563.00,852.17 564.00,852.22 565.00,852.27 566.00,852.32 567.00,852.38 568.00,852.43 569.00,852.48 570.00,852.53 571.00,852.59 572.00,852.63 573.00,852.68 574.00,852.73 575.00,852.78 576.00,852.82 577.00,852.87 578.00,852.92 579.00,852.96 580.00,853.01 581.00,853.06 582.00,853.11 583.00,853.15 584.00,853.20 585.00,853.25 586.00,853.29 587.00,853.34 588.00,853.38 589.00,853.43 590.00,853.47 591.00,853.51 592.00,853.55 593.00,853.59 594.00,853.63 595.00,853.67 596.00,853.72 597.00,853.76 598.00,853.80 599.00,853.84 600.00,853.88 601.00,853.92 602.00,853.96 603.00,854.00 604.00,854.04 605.00,854.09 606.00,854.13 607.00,854.17 608.00,854.22 609.00,854.26 610.00,854.31 611.00,854.35 612.00,854.40 613.00,854.44 614.00,854.49 615.00,854.53 616.00,854.57 617.00,854.62 618.00,854.66 619.00,854.71 620.00,854.75 621.00,854.80 622.00,854.84 623.00,854.88 624.00,854.92 625.00,854.95"/>
<text x="5.8" y="513.2" class="pl" textLength="21.3" lengthAdjust="spacing">[b]</text>
<text x="23.2" y="709.2" class="tt" text-anchor="middle" transform="rotate(-90 23.2 709.2)" textLength="136.5" lengthAdjust="spacingAndGlyphs">Absorbance</text>
<text x="270.6" y="952.3" class="tt" textLength="198" lengthAdjust="spacingAndGlyphs">Wavelength (nm)</text>
<line x1="454" y1="525" x2="497" y2="525" class="g"/>
<line x1="453.5" y1="565.8" x2="497" y2="565.8" class="r"/>
<line x1="453.5" y1="606.6" x2="497" y2="606.6" class="b"/>
<text x="502.3" y="532" class="lg" textLength="105" lengthAdjust="spacingAndGlyphs">PAN blank</text>
<text x="502.3" y="572.9" class="lg" textLength="134" lengthAdjust="spacingAndGlyphs">15% PAN, 4 h</text>
<text x="502.3" y="613" class="lg" textLength="134" lengthAdjust="spacingAndGlyphs">15% PAN, 2 h</text>
</svg>
</body></html>
